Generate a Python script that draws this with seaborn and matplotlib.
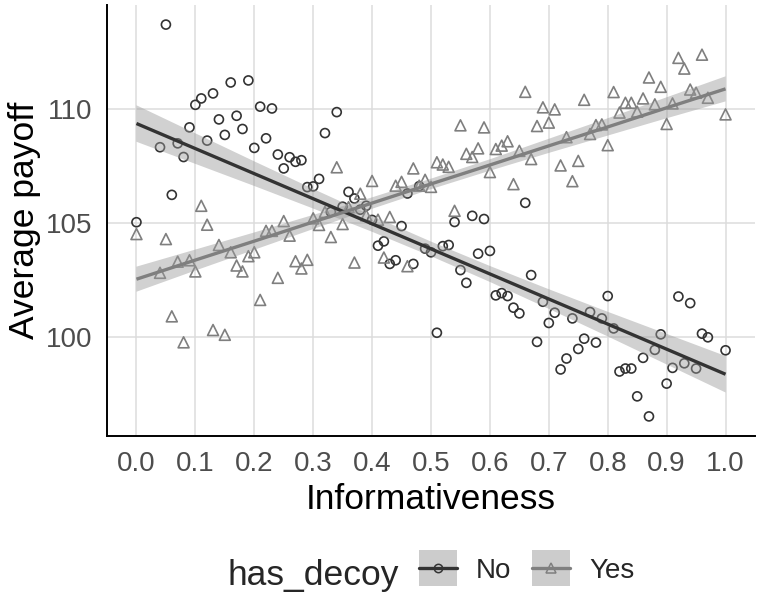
import numpy as np
import pandas as pd
import matplotlib
matplotlib.use("Agg")
import matplotlib.pyplot as plt
import seaborn as sns
from matplotlib.patches import Rectangle, Patch
from matplotlib.lines import Line2D
from matplotlib.legend_handler import HandlerPatch

# ---------------- data ----------------
informativeness = [
    0.00, 0.04, 0.05, 0.06, 0.07, 0.08, 0.09, 0.10, 0.11, 0.12, 0.13, 0.14,
    0.15, 0.16, 0.17, 0.18, 0.19, 0.20, 0.21, 0.22, 0.23, 0.24, 0.25, 0.26,
    0.27, 0.28, 0.29, 0.30, 0.31, 0.32, 0.33, 0.34, 0.35, 0.36, 0.37, 0.38,
    0.39, 0.40, 0.41, 0.42, 0.43, 0.44, 0.45, 0.46, 0.47, 0.48, 0.49, 0.50,
    0.51, 0.52, 0.53, 0.54, 0.55, 0.56, 0.57, 0.58, 0.59, 0.60, 0.61, 0.62,
    0.63, 0.64, 0.65, 0.66, 0.67, 0.68, 0.69, 0.70, 0.71, 0.72, 0.73, 0.74,
    0.75, 0.76, 0.77, 0.78, 0.79, 0.80, 0.81, 0.82, 0.83, 0.84, 0.85, 0.86,
    0.87, 0.88, 0.89, 0.90, 0.91, 0.92, 0.93, 0.94, 0.95, 0.96, 0.97, 1.00,
]

payoff_no = [
    105.05, 108.34, 113.72, 106.25, 108.51, 107.91, 109.21, 110.20, 110.48, 108.63, 110.70, 109.56,
    108.88, 111.18, 109.72, 109.14, 111.27, 108.31, 110.12, 108.73, 110.04, 108.02, 107.41, 107.90,
    107.70, 107.77, 106.59, 106.62, 106.95, 108.96, 105.50, 109.88, 105.73, 106.38, 106.09, 105.60,
    105.77, 105.15, 104.02, 104.21, 103.22, 103.38, 104.88, 106.31, 103.22, 106.63, 103.89, 103.73,
    100.20, 104.00, 104.05, 105.06, 102.95, 102.39, 105.33, 103.67, 105.19, 103.79, 101.84, 101.94,
    101.81, 101.30, 101.05, 105.90, 102.73, 99.80, 101.56, 100.63, 101.08, 98.59, 99.07, 100.83,
    99.49, 99.94, 101.11, 99.77, 100.83, 101.81, 100.39, 98.50, 98.63, 98.63, 97.41, 99.10,
    96.53, 99.45, 100.13, 97.97, 98.66, 101.79, 98.86, 101.50, 98.63, 100.16, 100.00, 99.43,
]

payoff_yes = [
    104.53, 102.83, 104.31, 100.92, 103.32, 99.78, 103.38, 102.89, 105.77, 104.94, 100.32, 104.05,
    100.11, 103.73, 103.15, 102.89, 103.56, 103.73, 101.64, 104.67, 104.67, 102.61, 105.10, 104.46,
    103.34, 103.02, 103.40, 105.22, 104.93, 105.50, 104.40, 107.46, 104.97, 105.71, 103.28, 106.30,
    105.35, 106.86, 105.16, 103.50, 105.28, 106.65, 106.82, 103.12, 107.41, 106.65, 106.91, 106.60,
    107.68, 107.58, 107.48, 105.55, 109.30, 108.05, 107.91, 108.29, 109.21, 107.25, 108.26, 108.41,
    108.60, 106.72, 108.18, 110.77, 107.82, 109.27, 110.09, 109.42, 110.00, 107.54, 108.78, 106.85,
    107.74, 110.42, 108.92, 109.31, 109.34, 108.43, 110.76, 109.86, 110.29, 110.29, 109.90, 110.48,
    111.40, 110.22, 110.99, 109.36, 110.26, 112.26, 111.79, 110.87, 110.73, 112.40, 110.51, 109.78,
]

# fitted linear trend and its 95% band
fit_x = [0.0, 0.1, 0.2, 0.3, 0.4, 0.5, 0.6, 0.7, 0.8, 0.9, 1.0]
fit_no = [109.38, 108.28, 107.18, 106.08, 104.98, 103.88, 102.78, 101.68, 100.58, 99.48, 98.38]
fit_no_lo = [108.58, 107.61, 106.64, 105.65, 104.63, 103.56, 102.43, 101.25, 100.04, 98.81, 97.58]
fit_no_hi = [110.18, 108.95, 107.72, 106.51, 105.33, 104.20, 103.13, 102.11, 101.12, 100.15, 99.18]
fit_yes = [102.55, 103.39, 104.22, 105.06, 105.89, 106.73, 107.56, 108.40, 109.23, 110.07, 110.90]
fit_yes_lo = [102.00, 102.93, 103.84, 104.75, 105.64, 106.50, 107.31, 108.09, 108.85, 109.61, 110.35]
fit_yes_hi = [103.10, 103.85, 104.60, 105.37, 106.14, 106.96, 107.81, 108.71, 109.61, 110.53, 111.45]

groups = ["No", "Yes"]
x_ticks = [0.0, 0.1, 0.2, 0.3, 0.4, 0.5, 0.6, 0.7, 0.8, 0.9, 1.0]
x_tick_labels = ["0.0", "0.1", "0.2", "0.3", "0.4", "0.5", "0.6", "0.7", "0.8", "0.9", "1.0"]
y_ticks = [100, 105, 110]

# ---------------- styling ----------------
sns.set_style("white")
plt.rcParams["font.family"] = ["Liberation Sans", "DejaVu Sans"]

colors = {"No": "#333333", "Yes": "#7F7F7F"}
markers = {"No": "o", "Yes": "^"}
sizes = {"No": 42, "Yes": 62}

df = pd.DataFrame({
    "Informativeness": informativeness * 2,
    "Average payoff": payoff_no + payoff_yes,
    "has_decoy": ["No"] * len(payoff_no) + ["Yes"] * len(payoff_yes),
})
fits = {
    "No": (fit_no, fit_no_lo, fit_no_hi),
    "Yes": (fit_yes, fit_yes_lo, fit_yes_hi),
}

W, H = 757, 592
fig = plt.figure(figsize=(W / 100, H / 100), dpi=100)
ax = fig.add_axes([107 / W, 1 - 436 / H, (755 - 107) / W, (436 - 5) / H])

# points
for g in groups:
    sub = df[df["has_decoy"] == g]
    sns.scatterplot(data=sub, x="Informativeness", y="Average payoff", ax=ax,
                    marker=markers[g], s=sizes[g], facecolor="none",
                    edgecolor=colors[g], linewidth=1.2, zorder=3, legend=False)

# confidence ribbons and trend lines
for g in groups:
    mid, lo, hi = fits[g]
    ax.fill_between(fit_x, lo, hi, facecolor="#999999", alpha=0.45,
                    edgecolor="none", zorder=4)
for g in groups:
    mid = fits[g][0]
    sns.lineplot(x=fit_x, y=mid, ax=ax, color=colors[g], lw=2.4, zorder=5,
                 legend=False, solid_capstyle="butt")

# axes, limits, grid
ax.set_xlim(-0.05, 1.05)
ymin, ymax = min(payoff_no + payoff_yes), max(payoff_no + payoff_yes)
rng = ymax - ymin
ax.set_ylim(ymin - 0.05 * rng, ymax + 0.05 * rng)
ax.set_xticks(x_ticks)
ax.set_xticklabels(x_tick_labels)
ax.set_yticks(y_ticks)
ax.grid(True, color="#DCDCDC", lw=1.1)
ax.set_axisbelow(True)
for side in ["top", "right"]:
    ax.spines[side].set_visible(False)
for side in ["left", "bottom"]:
    ax.spines[side].set_color("black")
    ax.spines[side].set_linewidth(1.4)
ax.tick_params(length=4.5, width=1.1, color="#333333", labelsize=20,
               labelcolor="#4D4D4D", pad=6)

ax.set_xlabel("Informativeness", fontsize=25.5, color="black")
ax.set_ylabel("Average payoff", fontsize=25.5, color="black")
ax.xaxis.set_label_coords(0.5, (436 - 483) / 431)
ax.yaxis.set_label_coords(-0.102, 0.5)

# legend
fig.text(227 / W, 1 - 585 / H, "has_decoy", fontsize=25.5, ha="left", va="baseline")

KEY_H = 26.6  # points


def key_patch(legend, orig_handle, xdescent, ydescent, width, height, fontsize):
    cy = (height - ydescent) / 2
    return Rectangle((-xdescent, cy - KEY_H / 2), width, KEY_H)


handles = []
for g in groups:
    bg = Patch(facecolor="#CCCCCC", edgecolor="none")
    ln = Line2D([], [], color=colors[g], lw=2.4, marker=markers[g],
                markersize=6 if g == "No" else 7, markerfacecolor="none",
                markeredgecolor=colors[g], markeredgewidth=1.1)
    handles.append((bg, ln))

fig.legend(handles=handles, labels=groups, ncol=2, loc="center left",
           bbox_to_anchor=(419 / W, 1 - 571 / H), frameon=False, fontsize=20,
           handlelength=1.37, handleheight=0.77, handletextpad=0.68,
           columnspacing=0.75, borderpad=0, borderaxespad=0,
           handler_map={Patch: HandlerPatch(patch_func=key_patch)})

fig.savefig("out.png", dpi=100)
